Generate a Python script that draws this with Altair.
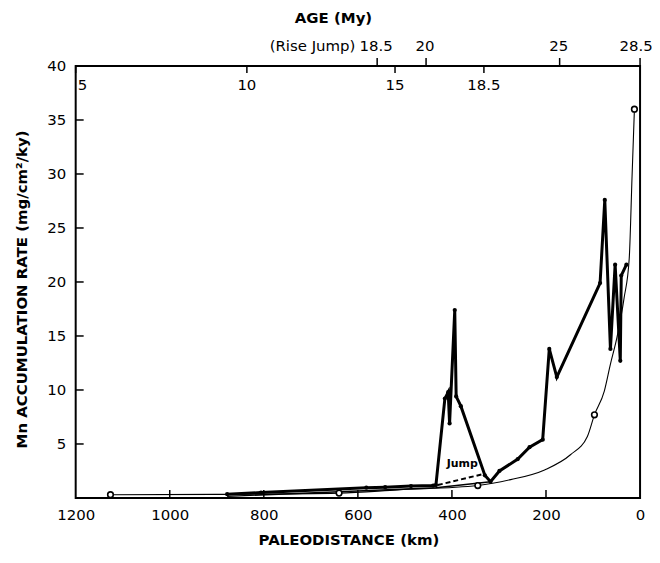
import altair as alt
import pandas as pd

# ---------------- data ----------------
# thick line with dots (Mn accumulation rate)
main_km = [878, 806, 582, 542, 487, 440, 434, 415, 408, 405, 394, 391, 381, 330,
           318, 299, 260, 235, 207, 193, 177, 85, 75, 63, 53, 42, 40, 29]
main_rate = [0.35, 0.5, 0.95, 1.0, 1.1, 1.15, 1.2, 9.2, 9.8, 6.9, 17.4, 9.4, 8.5, 2.1,
             1.5, 2.5, 3.6, 4.7, 5.4, 13.8, 11.2, 19.9, 27.6, 13.8, 21.6, 12.7, 20.6, 21.6]

# thin smooth curve through the open circles
curve_km = [1126, 900, 640, 514, 345, 275, 203, 148, 112, 97, 76, 63, 49, 34, 23, 17, 12]
curve_rate = [0.3, 0.33, 0.45, 0.75, 1.15, 1.7, 2.6, 4.0, 5.7, 7.7, 9.9, 12.4, 14.9,
              18.5, 22.2, 29.8, 36.0]

# open circles
circ_km = [1126, 640, 345, 97, 12]
circ_rate = [0.3, 0.45, 1.15, 7.7, 36.0]

# thin straight line
thin_km = [878, 434, 318]
thin_rate = [0.15, 0.95, 1.5]

# dashed "Jump" line
jump_km = [430, 335]
jump_rate = [1.2, 2.2]
jump_label_km = [378]
jump_label_rate = [3.1]

# age scales on the top axis (position in km)
upper_age_labels = ["18.5", "20", "25", "28.5"]
upper_age_km = [559, 455, 171, 0]
lower_age_labels = ["5", "10", "15", "18.5"]
lower_age_km = [1200, 836, 521, 332]

x_ticks = [0, 200, 400, 600, 800, 1000, 1200]
y_ticks = [5, 10, 15, 20, 25, 30, 35, 40]

FONT = "DejaVu Sans"
W, H = 567, 434

xs = alt.Scale(domain=[1200, 0], nice=False, zero=False)
ys = alt.Scale(domain=[0, 40], nice=False)

main_df = pd.DataFrame({"km": main_km, "rate": main_rate, "o": range(len(main_km))})
curve_df = pd.DataFrame({"km": curve_km, "rate": curve_rate, "o": range(len(curve_km))})
circ_df = pd.DataFrame({"km": circ_km, "rate": circ_rate})
thin_df = pd.DataFrame({"km": thin_km, "rate": thin_rate})
jump_df = pd.DataFrame({"km": jump_km, "rate": jump_rate})
jlab_df = pd.DataFrame({"km": jump_label_km, "rate": jump_label_rate, "t": ["Jump"]})
up_df = pd.DataFrame({"km": upper_age_km, "t": upper_age_labels})
lo_df = pd.DataFrame({"km": lower_age_km, "t": lower_age_labels})
xt_df = pd.DataFrame({"km": x_ticks[1:-1]})
yt_df = pd.DataFrame({"rate": y_ticks[:-1]})

base_x = alt.X("km:Q", scale=xs, axis=alt.Axis(
    values=x_ticks, format="d", title="PALEODISTANCE (km)", labelFlush=False,
    labelPadding=10, titleX=274, titleY=42, titleAlign="center",
    titleBaseline="middle"))
base_y = alt.Y("rate:Q", scale=ys, axis=alt.Axis(
    values=y_ticks, title="Mn ACCUMULATION RATE (mg/cm²/ky)", labelPadding=10,
    titleX=-54, titleY=224, titleAngle=270, titleAlign="center",
    titleBaseline="middle"))

curve = alt.Chart(curve_df).mark_line(color="black", strokeWidth=1.1, interpolate="monotone").encode(
    x=base_x, y=base_y, order="o:Q")
thin = alt.Chart(thin_df).mark_line(color="black", strokeWidth=1.4).encode(x="km:Q", y="rate:Q")
jump = alt.Chart(jump_df).mark_line(color="black", strokeWidth=2, strokeDash=[5, 3]).encode(
    x="km:Q", y="rate:Q")
main = alt.Chart(main_df).mark_line(color="black", strokeWidth=3, strokeJoin="miter").encode(
    x="km:Q", y="rate:Q", order="o:Q")
dots = alt.Chart(main_df).mark_circle(color="black", size=18, opacity=1).encode(x="km:Q", y="rate:Q")
circ = alt.Chart(circ_df).mark_point(shape="circle", filled=False, color="black", fill="white",
                                      size=32, strokeWidth=1.6, opacity=1).encode(x="km:Q", y="rate:Q")
jlab = alt.Chart(jlab_df).mark_text(font=FONT, fontSize=11, fontWeight="bold", color="black").encode(
    x="km:Q", y="rate:Q", text="t:N")

# inside ticks
xt = alt.Chart(xt_df).mark_rule(color="black", strokeWidth=1.5).encode(
    x="km:Q", y=alt.value(H - 8), y2=alt.value(H))
yt = alt.Chart(yt_df).mark_rule(color="black", strokeWidth=1.5).encode(
    y="rate:Q", x=alt.value(0), x2=alt.value(8))

# top age scales
up_ticks = alt.Chart(up_df).mark_rule(color="black", strokeWidth=1.5).encode(
    x="km:Q", y=alt.value(-8), y2=alt.value(0))
up_text = alt.Chart(up_df[up_df.km > 0]).mark_text(font=FONT, fontSize=15, color="black",
                                                   baseline="middle", dx=-1).encode(
    x="km:Q", y=alt.value(-20), text="t:N")
up_text_end = alt.Chart(up_df[up_df.km == 0]).mark_text(font=FONT, fontSize=15, color="black",
                                                        baseline="middle", dx=-4).encode(
    x="km:Q", y=alt.value(-20), text="t:N")
lo_ticks = alt.Chart(lo_df).mark_rule(color="black", strokeWidth=1.5).encode(
    x="km:Q", y=alt.value(0), y2=alt.value(7))
lo_text = alt.Chart(lo_df[lo_df.km < 1200]).mark_text(font=FONT, fontSize=15, color="black",
                                                     baseline="middle").encode(
    x="km:Q", y=alt.value(19), text="t:N")
lo_text0 = alt.Chart(lo_df[lo_df.km == 1200]).mark_text(font=FONT, fontSize=15, color="black",
                                                       baseline="middle", align="left", dx=2).encode(
    x="km:Q", y=alt.value(19), text="t:N")
rise = alt.Chart(pd.DataFrame({"t": ["(Rise Jump)"]})).mark_text(
    font=FONT, fontSize=15, color="black", baseline="middle", align="right").encode(
    x=alt.value(281), y=alt.value(-20), text="t:N")
age_title = alt.Chart(pd.DataFrame({"t": ["AGE (My)"]})).mark_text(
    font=FONT, fontSize=15, fontWeight="bold", color="black", baseline="middle", align="center").encode(
    x=alt.value(259), y=alt.value(-48), text="t:N")

chart = alt.layer(
    curve, thin, jump, main, dots, circ, jlab, xt, yt,
    up_ticks, up_text, up_text_end, lo_ticks, lo_text, lo_text0, rise, age_title
).properties(
    width=W, height=H,
    autosize=alt.AutoSizeParams(type="none"),
    padding={"left": 68, "top": 57, "right": 12, "bottom": 49},
).configure_view(
    stroke="black", strokeWidth=2
).configure_axis(
    grid=False, domain=False, ticks=False, labelFont=FONT, labelFontSize=15,
    labelColor="black", titleFont=FONT, titleFontSize=15, titleFontWeight="bold",
    titleColor="black"
)

chart.save("out.html", embed_options={"renderer": "svg", "actions": False})
